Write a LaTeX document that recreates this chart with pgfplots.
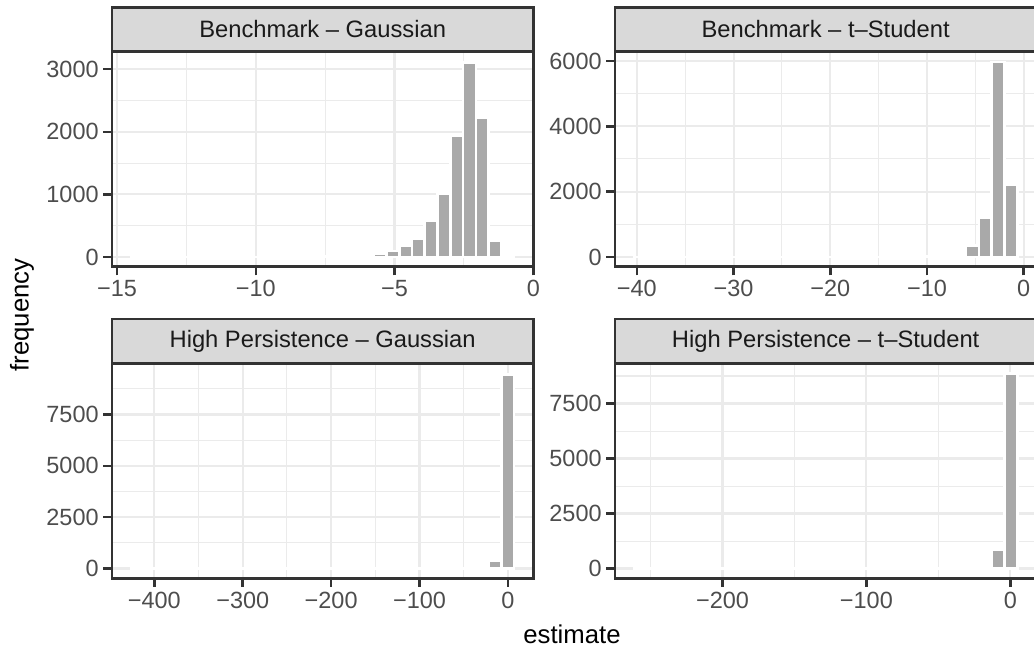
\documentclass[border=0pt]{standalone}
\usepackage{fontspec}
\setmainfont{Liberation Sans}
\usepackage{pgfplots}
\pgfplotsset{compat=1.18}
\definecolor{barc}{HTML}{A9A9A9}
\definecolor{gridc}{HTML}{EBEBEB}
\definecolor{grey20}{HTML}{333333}
\definecolor{grey30}{HTML}{4D4D4D}
\definecolor{stripc}{HTML}{D9D9D9}
\definecolor{grey10}{HTML}{1A1A1A}
\pgfplotsset{
  facet/.style={
    scale only axis, width=315.98pt, height=161.25pt,
    anchor=south west,
    axis line style={draw=grey20, line width=1.9pt},
    tick align=outside, tick pos=left,
    major tick length=6.5pt, minor tick length=0pt,
    major tick style={draw=grey20, line width=1.9pt},
    xmajorgrids, ymajorgrids, xminorgrids, yminorgrids,
    major grid style={draw=gridc, line width=1.6pt},
    minor grid style={draw=gridc, line width=0.8pt},
    tick label style={font=\fontsize{17.6}{20}\selectfont, text=grey30},
  },
  hbar/.style={ybar, fill=barc, draw=white, line width=2pt, bar width=#1},
}
\begin{document}
\begin{tikzpicture}
\useasboundingbox (0pt,0pt) rectangle (775.5pt,-489pt);
\clip (0pt,0pt) rectangle (775.5pt,-489pt);
% Top-left: Benchmark - Gaussian
\begin{axis}[facet, at={(84pt,-200.03pt)},
  xmin=-15.18, xmax=0, ymin=-156, ymax=3280,
  xtick={-15,-10,-5,0}, xticklabels={−15,−10,−5,0},
  minor xtick={-12.5,-7.5,-2.5},
  ytick={0,1000,2000,3000}, yticklabels={0,1000,2000,3000},
  minor ytick={500,1500,2500}]
\addplot[hbar=0.46] coordinates {
(-0.92,1) (-1.38,261) (-1.84,2231) (-2.30,3112) (-2.76,1943) (-3.22,1008)
(-3.68,580) (-4.14,294) (-4.60,180) (-5.06,97) (-5.52,55) (-5.98,25)
(-6.44,8) (-6.90,5) (-7.36,3) (-7.82,2) (-8.28,2) (-8.74,1) (-9.20,1)
(-9.66,0) (-10.12,1) (-10.58,0) (-11.04,0) (-11.50,1) (-11.96,0)
(-12.42,0) (-12.88,0) (-13.34,0) (-13.80,0) (-14.26,1)};
\end{axis}
% Top-right: Benchmark - t-Student
\begin{axis}[facet, at={(461.25pt,-200.03pt)},
  xmin=-42.26, xmax=1.30, ymin=-299, ymax=6283,
  xtick={-40,-30,-20,-10,0}, xticklabels={−40,−30,−20,−10,0},
  minor xtick={-35,-25,-15,-5},
  ytick={0,2000,4000,6000}, yticklabels={0,2000,4000,6000},
  minor ytick={1000,3000,5000}]
\addplot[hbar=1.32] coordinates {
(-1.34,2203) (-2.66,5969) (-3.98,1193) (-5.30,346) (-6.62,70) (-7.94,25)
(-9.26,10) (-10.58,6) (-11.90,4) (-13.22,3) (-14.54,2) (-15.86,2)
(-17.18,1) (-18.50,1) (-19.82,1) (-21.14,0) (-22.46,1) (-23.78,0)
(-25.10,1) (-26.42,0) (-27.74,0) (-29.06,0) (-30.38,1) (-31.70,0)
(-33.02,0) (-34.34,0) (-35.66,0) (-36.98,0) (-38.30,0) (-39.62,1)};
\end{axis}
% Bottom-left: High Persistence - Gaussian
\begin{axis}[facet, at={(84pt,-433.73pt)},
  xmin=-447.9, xmax=28.7, ymin=-476, ymax=9995,
  xtick={-400,-300,-200,-100,0}, xticklabels={−400,−300,−200,−100,0},
  minor xtick={-350,-250,-150,-50},
  ytick={0,2500,5000,7500}, yticklabels={0,2500,5000,7500},
  minor ytick={1250,3750,6250,8750}]
\addplot[hbar=14.44] coordinates {
(-0.20,9464) (-14.64,390) (-29.08,40) (-43.52,20) (-57.96,12) (-72.40,8)
(-86.84,6) (-101.28,5) (-115.72,4) (-130.16,3) (-144.60,3) (-159.04,2)
(-173.48,2) (-187.92,2) (-202.36,1) (-216.80,1) (-231.24,1) (-245.68,1)
(-260.12,1) (-274.56,0) (-289.00,1) (-303.44,0) (-317.88,1) (-332.32,0)
(-346.76,0) (-361.20,1) (-375.64,0) (-390.08,0) (-404.52,0) (-418.96,1)};
\end{axis}
% Bottom-right: High Persistence - t-Student
\begin{axis}[facet, at={(461.25pt,-433.73pt)},
  xmin=-274.67, xmax=18.04, ymin=-444, ymax=9328,
  xtick={-200,-100,0}, xticklabels={−200,−100,0},
  minor xtick={-250,-150,-50},
  ytick={0,2500,5000,7500}, yticklabels={0,2500,5000,7500},
  minor ytick={1250,3750,6250,8750}]
\addplot[hbar=8.87] coordinates {
(0.30,8860) (-8.57,860) (-17.44,40) (-26.31,15) (-35.18,8) (-44.05,5)
(-52.92,4) (-61.79,3) (-70.66,2) (-79.53,2) (-88.40,1) (-97.27,1)
(-106.14,1) (-115.01,0) (-123.88,1) (-132.75,0) (-141.62,1) (-150.49,0)
(-159.36,0) (-168.23,1) (-177.10,0) (-185.97,0) (-194.84,0) (-203.71,1)
(-212.58,0) (-221.45,0) (-230.32,0) (-239.19,0) (-248.06,0) (-256.93,1)};
\end{axis}
\begin{scope}[x=0.75pt,y=-0.75pt]
\foreach \xa/\ya/\txt in {112/7.3/{Benchmark – Gaussian}, 615/7.3/{Benchmark – t–Student}, 112/318.9/{High Persistence – Gaussian}, 615/318.9/{High Persistence – t–Student}}{
  \draw[fill=stripc, draw=grey20, line width=1.9pt] (\xa,\ya) rectangle ++(421.3,44.4);
  \node[text=grey10, font=\fontsize{17.8}{20}\selectfont] at (\xa+210.65,\ya+22.2) {\txt};
}
\node[rotate=90, font=\fontsize{19.3}{22}\selectfont, text=black] at (22,315) {frequency};
\node[anchor=base, font=\fontsize{19.3}{22}\selectfont, text=black] at (572,643) {estimate};
\end{scope}
\end{tikzpicture}
\end{document}
